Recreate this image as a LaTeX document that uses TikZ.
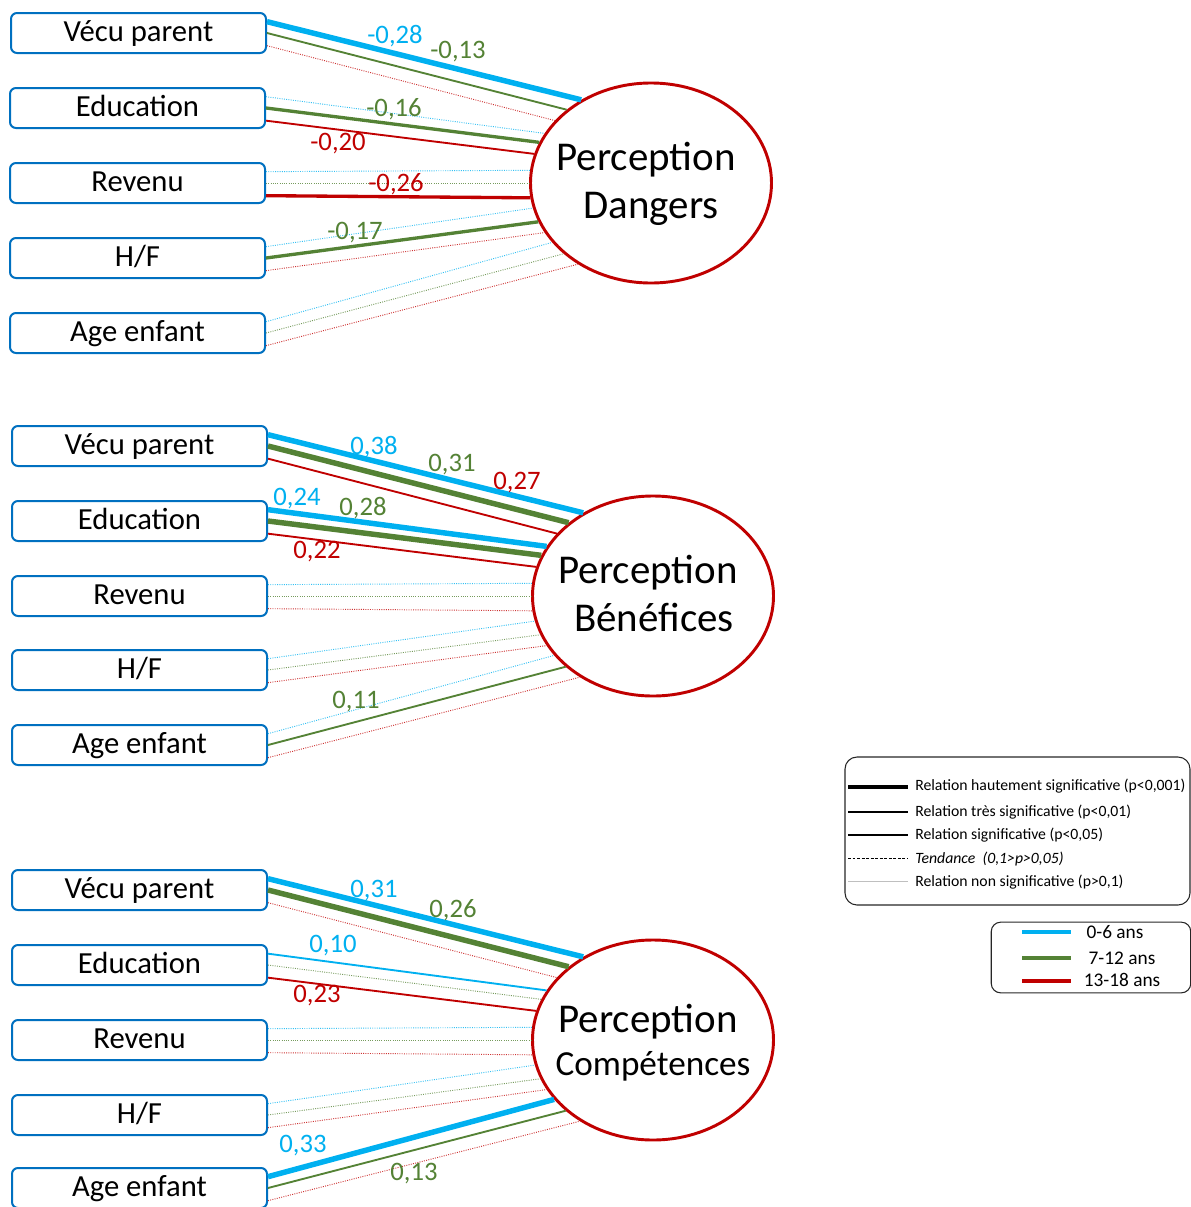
\documentclass[tikz,border=0pt]{standalone}
\usepackage{fontspec}
\setmainfont{Carlito}
\usetikzlibrary{shapes.geometric}
\definecolor{cblue}{HTML}{00B0F0}
\definecolor{cgreen}{HTML}{548235}
\definecolor{cred}{HTML}{C00000}
\definecolor{cbox}{HTML}{0070C0}
\begin{document}
\begin{tikzpicture}[x=0.75pt,y=-0.75pt,
 box/.style={draw=cbox, line width=1.5pt, rounded corners=4.5pt, fill=white, minimum width=191.25pt, minimum height=30pt, inner sep=0pt, text height=16.5pt, text depth=3.5pt, font=\fontsize{23}{27}\selectfont},
 ell/.style={ellipse, draw=cred, line width=2.2pt, fill=white, minimum width=180.75pt, minimum height=150pt, inner sep=0pt},
 etxt/.style={anchor=base, inner sep=0pt, font=\fontsize{30.7}{36}\selectfont},
 etxs/.style={anchor=base, inner sep=0pt, font=\fontsize{26.4}{31}\selectfont},
 lbl/.style={inner sep=0pt, font=\fontsize{20}{24}\selectfont},
 hs/.style={line width=4.1pt}, vs/.style={line width=2.5pt}, sg/.style={line width=1.4pt},
 ns/.style={line width=0.7pt, densely dotted, opacity=0.8},
 cb/.style={draw=cblue}, cg/.style={draw=cgreen}, cr/.style={draw=cred},
 offb/.style={yshift=8.5pt}, offg/.style={yshift=0pt}, offr/.style={yshift=-9.5pt},
 legt/.style={anchor=west, inner sep=0pt, font=\fontsize{11.8}{14}\selectfont},
 aget/.style={inner sep=0pt, font=\fontsize{14.5}{17}\selectfont}]
\useasboundingbox (0,0) rectangle (1191,1207);
\clip (0,0) rectangle (1191,1207);

% ---------- Panel 1 ----------
\node[box] (b11) at (138.5,33) {Vécu parent};
\node[box] (b12) at (137.5,108) {Education};
\node[box] (b13) at (137.5,183) {Revenu};
\node[box] (b14) at (137.5,258) {H/F};
\node[box] (b15) at (137.5,333) {Age enfant};
\node[ell] (e1) at (651,183) {};
\foreach \b/\c/\a/\s in {1/b/130/hs, 1/g/139/sg, 1/r/147.5/ns, 2/b/155/ns, 2/g/160.5/vs, 2/r/166/sg, 3/b/174/ns, 3/g/180/ns, 3/r/187/vs, 4/b/192.5/ns, 4/g/199/vs, 4/r/205.5/ns, 5/b/211/ns, 5/g/219/ns, 5/r/228/ns}
  \draw[c\c, \s] ([off\c]b1\b.east) -- (e1.\a);
\node[etxt] (t1a) at (646,170) {Perception};
\node[etxt] (t1b) at (651,218) {Dangers};
\node[lbl, text=cblue] (l11) at (395,36) {-0,28};
\node[lbl, text=cgreen] (l12) at (458,52) {-0,13};
\node[lbl, text=cgreen] (l13) at (394,109) {-0,16};
\node[lbl, text=cred] (l14) at (338,144) {-0,20};
\node[lbl, text=cred] (l15) at (396,184) {-0,26};
\node[lbl, text=cgreen] (l16) at (355,233) {-0,17};

% ---------- Panel 2 ----------
\node[box] (b21) at (139.5,446) {Vécu parent};
\node[box] (b22) at (139.5,521) {Education};
\node[box] (b23) at (139.5,596) {Revenu};
\node[box] (b24) at (139.5,670) {H/F};
\node[box] (b25) at (139.5,745) {Age enfant};
\node[ell] (e2) at (653,596) {};
\foreach \b/\c/\a/\s in {1/b/130/hs, 1/g/139/hs, 1/r/147.5/sg, 2/b/155/hs, 2/g/160.5/hs, 2/r/166/sg, 3/b/174/ns, 3/g/180/ns, 3/r/187/ns, 4/b/192.5/ns, 4/g/199/ns, 4/r/205.5/ns, 5/b/211/ns, 5/g/219/sg, 5/r/228/ns}
  \draw[c\c, \s] ([off\c]b2\b.east) -- (e2.\a);
\node[etxt] (t2a) at (648,583) {Perception};
\node[etxt] (t2b) at (654,631) {Bénéfices};
\node[lbl, text=cblue] (l21) at (374,447) {0,38};
\node[lbl, text=cgreen] (l22) at (452,465) {0,31};
\node[lbl, text=cred] (l23) at (517,483) {0,27};
\node[lbl, text=cblue] (l24) at (297,499) {0,24};
\node[lbl, text=cgreen] (l25) at (363,508) {0,28};
\node[lbl, text=cred] (l26) at (317,552) {0,22};
\node[lbl, text=cgreen] (l27) at (356,702) {0,11};

% ---------- Panel 3 ----------
\node[box] (b31) at (139.5,890) {Vécu parent};
\node[box] (b32) at (139.5,965) {Education};
\node[box] (b33) at (139.5,1040) {Revenu};
\node[box] (b34) at (139.5,1115) {H/F};
\node[box] (b35) at (139.5,1188) {Age enfant};
\node[ell] (e3) at (653,1040) {};
\foreach \b/\c/\a/\s in {1/b/130/hs, 1/g/139/hs, 1/r/147.5/ns, 2/b/155/sg, 2/g/160.5/ns, 2/r/166/sg, 3/b/174/ns, 3/g/180/ns, 3/r/187/ns, 4/b/192.5/ns, 4/g/199/ns, 4/r/205.5/ns, 5/b/211/hs, 5/g/219/sg, 5/r/228/ns}
  \draw[c\c, \s] ([off\c]b3\b.east) -- (e3.\a);
\node[etxt] (t3a) at (648,1032) {Perception};
\node[etxs] (t3b) at (653,1075) {Compétences};
\node[lbl, text=cblue] (l31) at (374,891) {0,31};
\node[lbl, text=cgreen] (l32) at (453,910) {0,26};
\node[lbl, text=cblue] (l33) at (333,946) {0,10};
\node[lbl, text=cred] (l34) at (317,996) {0,23};
\node[lbl, text=cblue] (l35) at (303,1146) {0,33};
\node[lbl, text=cgreen] (l36) at (414,1174) {0,13};

% ---------- Legend: significance ----------
\node[draw=black!85, line width=0.8pt, rounded corners=9pt, minimum width=258.75pt, minimum height=111pt, inner sep=0pt] (lg) at (1017.5,831) {};
\node[legt] (s1) at (915,786) {Relation hautement significative (p<0,001)};
\node[legt] (s2) at (915,812) {Relation très significative (p<0,01)};
\node[legt] (s3) at (915,835) {Relation significative (p<0,05)};
\node[legt] (s4) at (915,859) {\itshape Tendance\ \ (0,1>p>0,05)};
\node[legt] (s5) at (915,882) {Relation non significative (p>0,1)};
\coordinate (c1) at (848,787);
\coordinate (c2) at (848,812);
\coordinate (c3) at (848,835);
\coordinate (c4) at (848,858);
\coordinate (c5) at (848,881);
\draw[line width=3pt] (c1) -- ([xshift=-5pt]s1.west |- c1);
\draw[line width=1.9pt] (c2) -- ([xshift=-5pt]s2.west |- c2);
\draw[line width=1.1pt] (c3) -- ([xshift=-5pt]s3.west |- c3);
\draw[line width=0.7pt, dash pattern=on 2.2pt off 1.2pt] (c4) -- ([xshift=-5pt]s4.west |- c4);
\draw[line width=0.5pt, black!25] (c5) -- ([xshift=-5pt]s5.west |- c5);

% ---------- Legend: ages ----------
\node[draw=black!85, line width=0.8pt, rounded corners=7pt, minimum width=149.6pt, minimum height=53pt, inner sep=0pt] (la) at (1091,957.5) {};
\node[aget] (a1) at (1115,932) {0-6 ans};
\node[aget] (a2) at (1122,958) {7-12 ans};
\node[aget] (a3) at (1122,980) {13-18 ans};
\coordinate (d1) at (1022,932);
\coordinate (d2) at (1022,958);
\coordinate (d3) at (1022,981);
\coordinate (f1) at (1071,932);
\coordinate (f2) at (1071,958);
\coordinate (f3) at (1071,981);
\draw[cblue, line width=2.3pt] (d1) -- (f1);
\draw[cgreen, line width=2.3pt] (d2) -- (f2);
\draw[cred, line width=2.3pt] (d3) -- (f3);
\end{tikzpicture}
\end{document}
